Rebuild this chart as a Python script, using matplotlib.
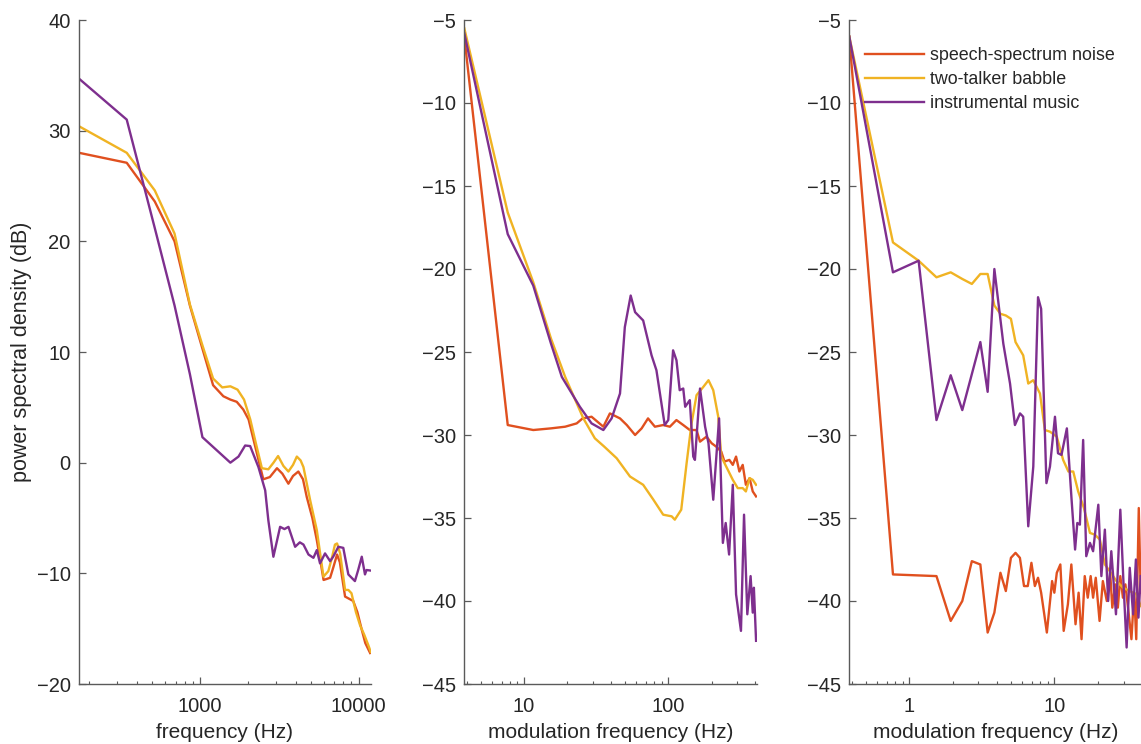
import numpy as np
import matplotlib
matplotlib.use("Agg")
import matplotlib.pyplot as plt
from matplotlib.ticker import LogLocator, NullFormatter

plt.rcParams['font.family'] = ['Liberation Sans', 'DejaVu Sans']

#-------------------------------------------------------------
# Data
labels = ['speech-spectrum noise', 'two-talker babble', 'instrumental music']
colors = ['#E0501F', '#F0B323', '#7E2F8E']

# panel 1: power spectral density vs frequency (Hz)
p1_noise_f = [172, 344, 517, 689, 861, 1033, 1206, 1400, 1550, 1700, 1870, 2020, 2220, 2500,
              2750, 3050, 3300, 3600, 3850, 4160, 4450, 4700, 5100, 5440, 5750, 6000, 6300,
              6600, 6900, 7300, 7600, 8200, 8700, 9230, 9800, 10450, 11000, 11800]
p1_noise_v = [28.0, 27.1, 23.6, 20.0, 14.2, 10.3, 7.0, 6.0, 5.7, 5.5, 4.8, 3.9, 1.5, -1.5,
              -1.3, -0.5, -1.0, -1.9, -1.2, -0.8, -1.5, -3.1, -5.0, -7.0, -9.0, -10.6, -10.5,
              -10.4, -9.5, -8.3, -9.0, -12.1, -12.3, -12.5, -13.5, -15.1, -16.3, -17.2]

p1_babble_f = [172, 344, 517, 689, 861, 1033, 1206, 1378, 1550, 1720, 1890, 2070, 2240, 2450,
               2690, 2900, 3100, 3350, 3600, 3850, 4070, 4300, 4480, 4940, 5440, 5990, 6430,
               6800, 7080, 7300, 7630, 8200, 8600, 9000, 9600, 10200, 10800, 11500, 11900]
p1_babble_v = [30.4, 28.0, 24.6, 20.7, 14.3, 10.6, 7.6, 6.8, 6.9, 6.6, 5.7, 3.9, 1.8, -0.5,
               -0.6, 0.0, 0.6, -0.3, -0.8, -0.2, 0.55, 0.2, -0.4, -3.4, -6.1, -10.3, -9.8,
               -8.5, -7.4, -7.3, -8.2, -11.5, -11.5, -11.8, -13.5, -14.7, -15.5, -16.5, -17.1]

p1_music_f = [172, 344, 517, 689, 861, 1033, 1550, 1744, 1921, 2066, 2330, 2570, 2690, 2895,
              3192, 3400, 3604, 3970, 4250, 4480, 4820, 5180, 5440, 5700, 6130, 6600, 6900,
              7440, 7990, 8600, 9460, 9920, 10450, 10950, 11200, 11900]
p1_music_v = [34.7, 31.0, 21.2, 14.2, 8.0, 2.3, 0.0, 0.55, 1.55, 1.5, -0.4, -2.5, -5.2, -8.5,
              -5.8, -6.0, -5.8, -7.6, -7.2, -7.4, -8.3, -8.6, -7.9, -9.1, -8.2, -8.9, -8.5,
              -7.6, -7.7, -10.1, -10.7, -9.7, -8.5, -10.1, -9.7, -9.75]

# panel 2: modulation spectrum (4-400 Hz)
p2_noise_f = [3.86, 7.72, 11.6, 15.4, 19.3, 23.2, 25.5, 29.4, 35.5, 39.4, 46.3, 51.6, 58.9,
              65.4, 72.4, 80.8, 92.2, 102.6, 113.9, 127, 141, 157, 166, 184, 200, 215, 233,
              245, 265, 280, 295, 311, 328, 345, 366, 385, 406]
p2_noise_v = [-6.0, -29.4, -29.7, -29.6, -29.5, -29.3, -29.0, -28.9, -29.5, -28.7, -29.0,
              -29.4, -30.0, -29.6, -29.0, -29.5, -29.4, -29.5, -29.1, -29.4, -29.7, -29.7,
              -30.4, -30.1, -30.5, -30.7, -31.0, -31.6, -31.5, -31.8, -31.3, -32.2, -31.8,
              -33.0, -32.6, -33.4, -33.7]

p2_babble_f = [3.86, 7.72, 11.6, 15.4, 19.3, 25.8, 31, 36, 43.9, 54.3, 67, 78.9, 92.2, 105.6,
               111, 123, 134, 145, 157, 175, 190, 205, 222, 233, 252, 280, 303, 328, 345,
               366, 385, 406]
p2_babble_v = [-5.5, -16.6, -20.8, -24.2, -26.5, -29.0, -30.2, -30.7, -31.4, -32.5, -33.0,
               -33.9, -34.8, -34.9, -35.1, -34.5, -31.7, -29.3, -27.6, -27.1, -26.7, -27.3,
               -28.9, -31.3, -31.9, -32.7, -33.2, -33.2, -33.4, -32.6, -32.7, -33.0]

p2_music_f = [3.86, 7.72, 11.6, 15.4, 18.3, 24.4, 29.4, 35.5, 40.5, 46.3, 50.0, 54.9, 58.9,
              67, 76.6, 82.8, 94.5, 100, 108, 114, 120, 127, 131, 141, 149, 153, 166, 180,
              190, 205, 225, 239, 250, 264, 280, 295, 319, 335, 353, 372, 385, 392, 406]
p2_music_v = [-5.8, -17.9, -21.0, -24.5, -26.5, -28.3, -29.3, -29.7, -29.0, -27.5, -23.5,
              -21.6, -22.6, -23.1, -25.2, -26.1, -29.4, -29.1, -24.9, -25.5, -27.3, -27.2,
              -28.3, -27.9, -31.3, -31.5, -27.2, -29.5, -30.5, -33.9, -29.0, -36.5, -35.3,
              -37.2, -33.0, -39.6, -41.8, -34.8, -40.8, -38.5, -40.7, -39.2, -42.4]

# panel 3: modulation spectrum (0.4-40 Hz)
p3_noise_f = [0.386, 0.772, 1.54, 1.93, 2.32, 2.70, 3.09, 3.47, 3.86, 4.25, 4.63, 5.02, 5.40,
              5.79, 6.18, 6.56, 6.95, 7.34, 7.72, 8.11, 8.49, 8.88, 9.65, 10.0, 10.4, 11.0,
              11.6, 12.4, 13.1, 14.0, 14.7, 15.4, 16.2, 17.0, 17.8, 18.5, 19.3, 20.5, 21.6,
              23.0, 24.3, 25.1, 26.3, 27.4, 28.5, 29.7, 30.9, 32.4, 34.0, 35.5, 36.7, 38.2,
              39.4]
p3_noise_v = [-6.0, -38.4, -38.5, -41.2, -40.0, -37.6, -37.8, -41.9, -40.7, -38.3, -39.4,
              -37.4, -37.1, -37.4, -39.1, -39.1, -37.7, -39.1, -38.6, -39.5, -40.7, -41.9,
              -38.8, -39.5, -38.3, -37.8, -41.8, -40.2, -37.8, -41.4, -39.5, -42.3, -38.5,
              -39.8, -38.5, -39.8, -38.6, -41.2, -38.8, -40.0, -38.4, -40.4, -39.0, -40.4,
              -38.5, -39.8, -39.0, -40.6, -42.3, -39.5, -42.3, -34.4, -39.5]

p3_babble_f = [0.386, 0.772, 1.16, 1.54, 1.93, 2.32, 2.70, 3.09, 3.47, 3.86, 4.25, 4.63,
               5.02, 5.40, 6.10, 6.61, 7.16, 7.96, 8.61, 9.33, 10.4, 11.5, 12.5, 13.5, 14.6,
               16.0, 17.6, 19.0, 20.6, 22.3, 24.1, 26.8, 29.8, 33.1, 36.8, 39.4]
p3_babble_v = [-6.0, -18.4, -19.5, -20.5, -20.2, -20.6, -20.9, -20.3, -20.3, -22.2, -22.7,
               -22.8, -23.0, -24.4, -25.2, -26.9, -26.7, -27.5, -29.7, -29.8, -30.1, -31.5,
               -32.2, -32.2, -33.4, -34.4, -35.9, -36.0, -36.3, -37.8, -38.2, -38.8, -39.2,
               -39.4, -39.6, -40.3]

p3_music_f = [0.386, 0.772, 1.16, 1.54, 1.93, 2.32, 3.09, 3.47, 3.86, 4.45, 4.95, 5.35, 5.80,
              6.10, 6.61, 7.16, 7.72, 8.11, 8.82, 9.33, 10.1, 10.6, 11.2, 12.2, 13.15, 13.9,
              14.4, 15.0, 15.8, 16.6, 17.6, 18.5, 20.1, 21.1, 22.3, 23.5, 24.7, 26.6, 28.5,
              30.0, 31.5, 33.1, 34.9, 36.5, 38.0, 39.4]
p3_music_v = [-6.0, -20.2, -19.5, -29.1, -26.4, -28.5, -24.4, -27.4, -20.0, -24.5, -26.9,
              -29.4, -28.7, -28.9, -35.5, -31.9, -21.7, -22.4, -32.9, -31.9, -28.9, -31.1,
              -31.2, -29.6, -33.9, -36.9, -35.3, -35.4, -30.3, -37.3, -36.5, -37.0, -34.2,
              -38.5, -35.7, -40.0, -37.0, -40.8, -34.5, -39.0, -42.8, -38.0, -40.8, -37.5,
              -41.0, -38.5]

#-------------------------------------------------------------
# Figure
W, H = 1141, 744
fig = plt.figure(figsize=(W / 100, H / 100), dpi=100)

axis_col = '#5a5a5a'
text_col = '#262626'

def make_axes(left_px, width_px):
    ax = fig.add_axes([left_px / W, 1 - 684 / H, width_px / W, 664 / H])
    ax.set_xscale('log')
    for s in ['top', 'right']:
        ax.spines[s].set_visible(False)
    for s in ['left', 'bottom']:
        ax.spines[s].set_color(axis_col)
        ax.spines[s].set_linewidth(1.0)
    ax.tick_params(which='both', direction='in', colors=axis_col, labelcolor=text_col,
                   labelsize=14.5)
    ax.tick_params(which='major', length=5, width=0.9)
    ax.tick_params(which='minor', length=2.5, width=0.8)
    ax.tick_params(axis='x', pad=9)
    ax.tick_params(axis='y', pad=6)
    ax.xaxis.set_minor_locator(LogLocator(base=10, subs=np.arange(2, 10)))
    ax.xaxis.set_minor_formatter(NullFormatter())
    ax.yaxis.set_minor_locator(plt.NullLocator())
    return ax

ax1 = make_axes(79, 292)
ax2 = make_axes(464.3, 293)
ax3 = make_axes(849.3, 293)

panels = [
    (ax1, [(p1_noise_f, p1_noise_v), (p1_babble_f, p1_babble_v), (p1_music_f, p1_music_v)]),
    (ax2, [(p2_noise_f, p2_noise_v), (p2_babble_f, p2_babble_v), (p2_music_f, p2_music_v)]),
    (ax3, [(p3_noise_f, p3_noise_v), (p3_babble_f, p3_babble_v), (p3_music_f, p3_music_v)]),
]
for ax, series in panels:
    for (f, v), c, lab in zip(series, colors, labels):
        ax.plot(f, v, color=c, lw=1.7, label=lab)

ax1.set_xlim(172, 11950)
ax1.set_ylim(-20, 40)
ax1.set_xticks([1000, 10000], ['1000', '10000'])
ax1.set_yticks(np.arange(-20, 41, 10))
ax1.set_xlabel('frequency (Hz)', fontsize=15, color=text_col)
ax1.set_ylabel('power spectral density (dB)', fontsize=15.5, color=text_col)
ax1.yaxis.set_label_coords(-0.16, 0.5)

ax2.set_xlim(3.86, 414)
ax2.set_ylim(-45, -5)
ax2.set_xticks([10, 100], ['10', '100'])
ax2.set_yticks(np.arange(-45, -4, 5))
ax2.set_xlabel('modulation frequency (Hz)', fontsize=15, color=text_col)

ax3.set_xlim(0.386, 40.4)
ax3.set_ylim(-45, -5)
ax3.set_xticks([1, 10], ['1', '10'])
ax3.set_yticks(np.arange(-45, -4, 5))
ax3.set_xlabel('modulation frequency (Hz)', fontsize=15, color=text_col)

for ax in (ax1, ax2, ax3):
    ax.xaxis.set_label_coords(0.5, -0.058)

ax3.legend(loc='upper left', bbox_to_anchor=(865 / W, 1 - 47 / H),
           bbox_transform=fig.transFigure, frameon=False, fontsize=12.9,
           handlelength=3.3, handletextpad=0.3, labelspacing=0.4,
           borderpad=0, borderaxespad=0, labelcolor=text_col)

fig.savefig('out.png', dpi=100)
